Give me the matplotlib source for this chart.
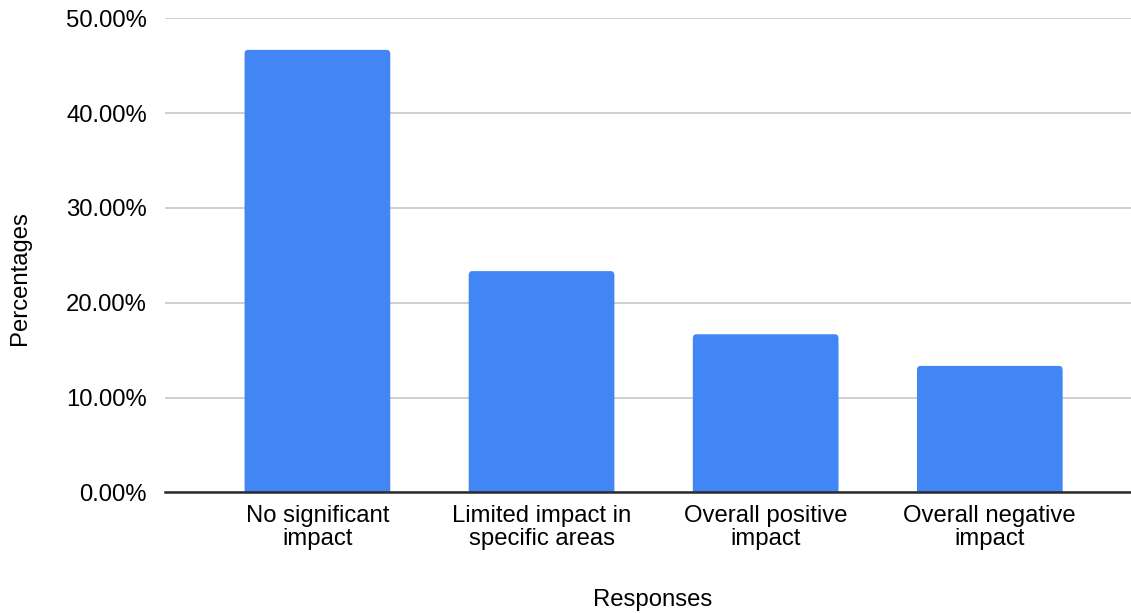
import matplotlib.pyplot as plt
from matplotlib.patches import FancyBboxPatch
from matplotlib.ticker import FuncFormatter

plt.rcParams["font.family"] = ["Liberation Sans", "DejaVu Sans"]

# survey responses and their share of answers (%)
responses = ["No significant\nimpact", "Limited impact in\nspecific areas",
             "Overall positive\nimpact", "Overall negative\nimpact"]
percentages = [46.67, 23.33, 16.67, 13.33]
y_ticks = [0, 10, 20, 30, 40, 50]

bar_color = "#4285F4"
fs = 17.2

fig = plt.figure(figsize=(11.31, 6.13), dpi=100)
ax = fig.add_axes([165 / 1131, 1 - 492.3 / 613, 1 - 165 / 1131, (492.3 - 18.3) / 613])

x = list(range(len(responses)))
bars = ax.bar(x, percentages, width=0.65, color=bar_color, zorder=3)

# swap the plain rectangles for ones with slightly rounded top corners;
# they start below zero so the bottom corners are clipped off by the axes
for b in bars:
    x0, w, h = b.get_x(), b.get_width(), b.get_height()
    b.set_visible(False)
    ax.add_patch(FancyBboxPatch((x0, -3), w, h + 3,
                                boxstyle="round,pad=0,rounding_size=0.015",
                                mutation_aspect=30,
                                facecolor=bar_color, edgecolor="none", zorder=3))

ax.set_xlim(-0.68, 3.63)
ax.set_ylim(0, 50)
ax.set_yticks(y_ticks)
ax.yaxis.set_major_formatter(FuncFormatter(lambda v, _: f"{v:.2f}%"))
ax.set_xticks(x)
ax.set_xticklabels(responses, fontsize=fs, linespacing=1.05)
ax.tick_params(axis="y", labelsize=fs, length=0, pad=13)
ax.tick_params(axis="x", length=0, pad=9)

ax.grid(axis="y", color="#cccccc", linewidth=1.3, zorder=0)
ax.axhline(0, color="#2b2b2b", linewidth=1.8, zorder=4, clip_on=False)
for s in ax.spines.values():
    s.set_visible(False)

fig.text(20 / 1131, 1 - 278 / 613, "Percentages", rotation=90, fontsize=fs,
         ha="center", va="center")
fig.text(653 / 1131, 1 - 600 / 613, "Responses", fontsize=fs,
         ha="center", va="center")

fig.savefig("out.png", dpi=100, facecolor="white")
